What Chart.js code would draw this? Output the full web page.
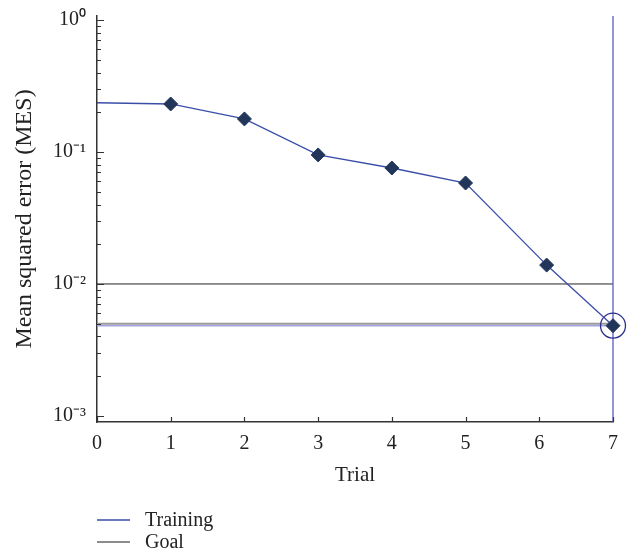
<!DOCTYPE html>
<html>
<head>
<meta charset="utf-8">
<script src="https://cdn.jsdelivr.net/npm/chart.js@4.4.1/dist/chart.umd.min.js"></script>
<style>
  html, body { margin: 0; padding: 0; background: #fff; }
</style>
</head>
<body>
<canvas id="grafico" width="631" height="554"></canvas>
<script>
// values
const trials = [0, 1, 2, 3, 4, 5, 6.1, 7];
const mse = [0.236, 0.231, 0.178, 0.095, 0.0756, 0.0582, 0.0139, 0.00483];
const goalValue = 0.005;
const bestValue = 0.00483;
const refValue = 0.01;
const bestTrial = 7;
const xTickValues = [0, 1, 2, 3, 4, 5, 6, 7];
const decades = [-3, -2, -1, 0];
const yMin = 9.0e-4, yMax = 1.072;

const corTreino = '#3a4ea8';
const corMarcador = '#22365a';

const sup = { '-': '\u207B', '0': '\u2070', '1': '\u00B9', '2': '\u00B2', '3': '\u00B3' };
const ehPotencia = v => Math.abs(Math.log10(v) - Math.round(Math.log10(v))) < 1e-9;

// log ticks 1..9 x 10^d inside the range
const yTickValues = [];
decades.forEach(d => {
    for (let m = 1; m <= 9; m++) {
        const v = m * Math.pow(10, d);
        if (v >= yMin && v <= yMax) yTickValues.push(v);
    }
});

Chart.defaults.font.family = '"Liberation Serif", "Times New Roman", serif';
Chart.defaults.color = '#222';

// tick marks pointing into the plot
const ticksDentro = {
    id: 'ticksDentro',
    afterDraw(chart) {
        const { ctx, chartArea: a, scales: { x, y } } = chart;
        ctx.save();
        ctx.strokeStyle = '#333';
        ctx.lineWidth = 1.2;
        ctx.beginPath();
        y.ticks.forEach(t => {
            const py = Math.round(y.getPixelForValue(t.value)) + 0.5;
            const len = ehPotencia(t.value) ? 7 : 4;
            ctx.moveTo(a.left, py);
            ctx.lineTo(a.left + len, py);
        });
        x.ticks.forEach(t => {
            const px = Math.round(x.getPixelForValue(t.value)) + 0.5;
            ctx.moveTo(px, a.bottom);
            ctx.lineTo(px, a.bottom - 5);
        });
        ctx.stroke();
        ctx.restore();
    }
};

// legend stacked under the plot
const legendaAbaixo = {
    id: 'legendaAbaixo',
    afterDraw(chart) {
        const { ctx, chartArea: a } = chart;
        const itens = [
            { texto: 'Training', cor: corTreino },
            { texto: 'Goal', cor: '#666' }
        ];
        ctx.save();
        ctx.font = '20px "Liberation Serif", serif';
        ctx.textBaseline = 'alphabetic';
        ctx.fillStyle = '#222';
        itens.forEach((it, i) => {
            const ly = 520 + i * 22;
            ctx.strokeStyle = it.cor;
            ctx.lineWidth = 1.5;
            ctx.beginPath();
            ctx.moveTo(a.left, ly);
            ctx.lineTo(a.left + 33, ly);
            ctx.stroke();
            ctx.fillText(it.texto, a.left + 48, ly + 6);
        });
        ctx.restore();
    }
};

const linhaH = v => [{ x: xTickValues[0], y: v }, { x: xTickValues[xTickValues.length - 1], y: v }];

new Chart(document.getElementById('grafico'), {
    type: 'line',
    data: {
        datasets: [
            {
                label: 'Training',
                data: trials.map((t, i) => ({ x: t, y: mse[i] })),
                borderColor: corTreino,
                borderWidth: 1.3,
                pointStyle: 'rectRot',
                pointRadius: c => c.dataIndex === 0 ? 0 : 7,
                pointBackgroundColor: corMarcador,
                pointBorderColor: corMarcador,
                pointBorderWidth: 1,
                clip: false
            },
            {
                label: 'Best',
                data: [{ x: bestTrial, y: bestValue }],
                showLine: false,
                pointStyle: 'circle',
                pointRadius: 12.5,
                pointBackgroundColor: 'rgba(0,0,0,0)',
                pointBorderColor: '#2a2f8c',
                pointBorderWidth: 1.3,
                clip: false
            },
            {
                label: 'vertical',
                data: [{ x: bestTrial, y: yMin }, { x: bestTrial, y: yMax }],
                borderColor: '#5b5cc4',
                borderWidth: 1.3,
                pointRadius: 0,
                clip: false
            },
            {
                label: 'ref',
                data: linhaH(refValue),
                borderColor: '#222',
                borderWidth: 1,
                pointRadius: 0
            },
            {
                label: 'best line',
                data: linhaH(bestValue),
                borderColor: '#a3a3e3',
                borderWidth: 1.5,
                pointRadius: 0
            },
            {
                label: 'Goal',
                data: linhaH(goalValue),
                borderColor: '#999',
                borderWidth: 2,
                pointRadius: 0
            }
        ]
    },
    options: {
        responsive: false,
        animation: false,
        devicePixelRatio: 1,
        layout: { padding: { top: 16, right: 18, bottom: 66, left: 0 } },
        plugins: { legend: { display: false }, tooltip: { enabled: false } },
        scales: {
            x: {
                type: 'linear',
                min: 0,
                max: 7,
                afterBuildTicks: s => { s.ticks = xTickValues.map(v => ({ value: v })); },
                afterFit: s => { s.height = 66; s.paddingLeft = 0; s.paddingRight = 0; },
                ticks: { font: { size: 20 }, padding: 10, maxRotation: 0 },
                grid: { display: false, drawTicks: false },
                border: { color: '#333', width: 1.5 },
                title: { display: true, text: 'Trial', font: { size: 21 }, padding: 0 }
            },
            y: {
                type: 'logarithmic',
                min: yMin,
                max: yMax,
                afterBuildTicks: s => { s.ticks = yTickValues.map(v => ({ value: v, major: ehPotencia(v) })); },
                afterFit: s => { s.width = 97; s.paddingTop = 0; s.paddingBottom = 0; },
                ticks: {
                    font: { size: 20 },
                    padding: 11,
                    autoSkip: false,
                    callback: v => {
                        if (!ehPotencia(v)) return '';
                        const e = String(Math.round(Math.log10(v)));
                        return '10' + e.split('').map(c => sup[c]).join('');
                    }
                },
                grid: { display: false, drawTicks: false },
                border: { color: '#333', width: 1.5 },
                title: { display: true, text: 'Mean squared error (MES)', font: { size: 24 }, padding: { top: 10, bottom: 0 } }
            }
        }
    },
    plugins: [ticksDentro, legendaAbaixo]
});
</script>
</body>
</html>
